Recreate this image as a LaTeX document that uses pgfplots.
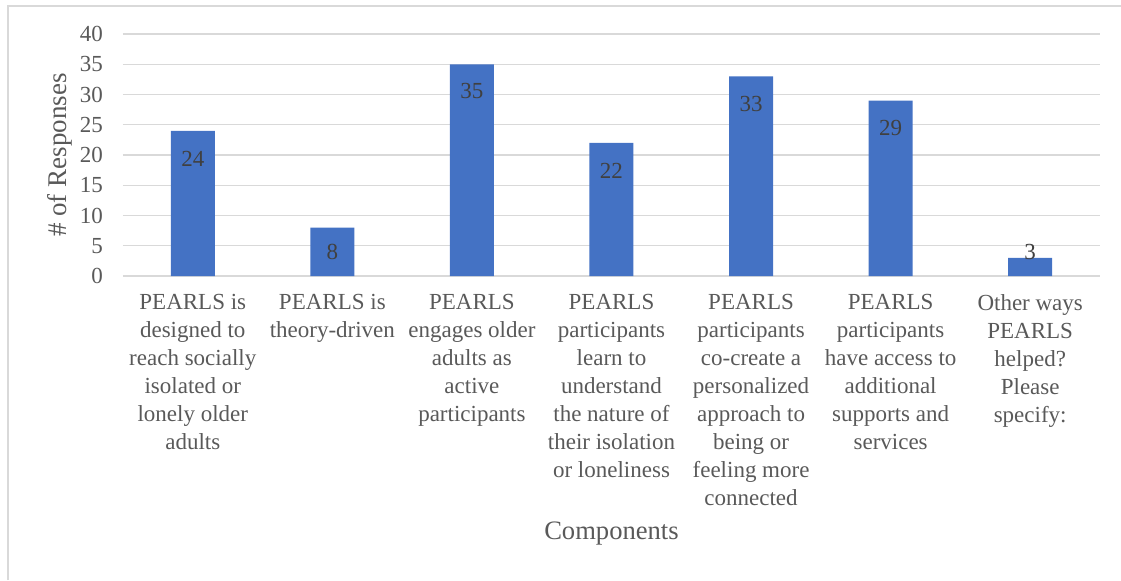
\documentclass[border=0pt]{standalone}
\usepackage{pgfplots}
\pgfplotsset{compat=1.18}
\usepackage{fontspec}
\setmainfont{Liberation Serif}
\definecolor{barblue}{HTML}{4472C4}
\definecolor{gridgray}{HTML}{D9D9D9}
\definecolor{ticktext}{HTML}{595959}
\definecolor{labtext}{HTML}{404040}
\begin{document}
\begin{tikzpicture}
\begin{axis}[
  scale only axis, width=488.5pt, height=121pt,
  xmin=-0.5, xmax=6.5, ymin=0, ymax=40,
  ytick={0,5,...,40},
  xtick={0,...,6},
  xticklabels={
    {PEARLS is\\designed to\\reach socially\\isolated or\\lonely older\\adults},
    {PEARLS is\\theory-driven},
    {PEARLS\\engages older\\adults as\\active\\participants},
    {PEARLS\\participants\\learn to\\understand\\the nature of\\their isolation\\or loneliness},
    {PEARLS\\participants\\co-create a\\personalized\\approach to\\being or\\feeling more\\connected},
    {PEARLS\\participants\\have access to\\additional\\supports and\\services},
    {Other ways\\PEARLS\\helped?\\Please\\specify:}},
  xticklabel style={align=center, font=\fontsize{11.5}{14}\selectfont, text=ticktext, anchor=north, yshift=-5.5pt},
  yticklabel style={font=\fontsize{11.5}{12}\selectfont, text=ticktext, xshift=-6.5pt},
  /pgf/number format/assume math mode=true,
  major tick length=0pt,
  axis line style={draw=none},
  axis x line*=bottom,
  ymajorgrids, grid style={gridgray, line width=0.6pt},
  xlabel={Components},
  xlabel style={font=\fontsize{13.3}{15}\selectfont, text=ticktext, at={(axis description cs:0.5,0)}, anchor=center, yshift=-129pt},
  ylabel={\# of Responses},
  ylabel style={font=\fontsize{13.5}{15}\selectfont, text=ticktext, at={(axis description cs:-0.0645,0.5)}, anchor=center},
  clip=false,
]
\coordinate (SW) at (rel axis cs:0,0);
\draw[gridgray, line width=0.8pt] (axis cs:-0.5,0) -- (axis cs:6.5,0);
\addplot[ybar, bar width=22pt, fill=barblue, draw=none] coordinates {
  (0,24) (1,8) (2,35) (3,22) (4,33) (5,29) (6,3)};
\addplot[draw=none, mark=none, nodes near coords, point meta=explicit symbolic,
  every node near coord/.append style={anchor=center, font=\fontsize{11.5}{12}\selectfont, text=labtext}]
  coordinates {
  (0,19.4)[24] (1,4.0)[8] (2,30.6)[35] (3,17.4)[22] (4,28.5)[33] (5,24.5)[29] (6,4.0)[3]};
\end{axis}
\pgfresetboundingbox
\useasboundingbox ([shift={(-61.5pt,-152pt)}]SW) rectangle ++(560.5pt,290pt);
\draw[gridgray, line width=0.8pt] ([shift={(-57.5pt,-152pt)}]SW) -- ++(0,287pt) -- ++(560pt,0);
\end{tikzpicture}
\end{document}
